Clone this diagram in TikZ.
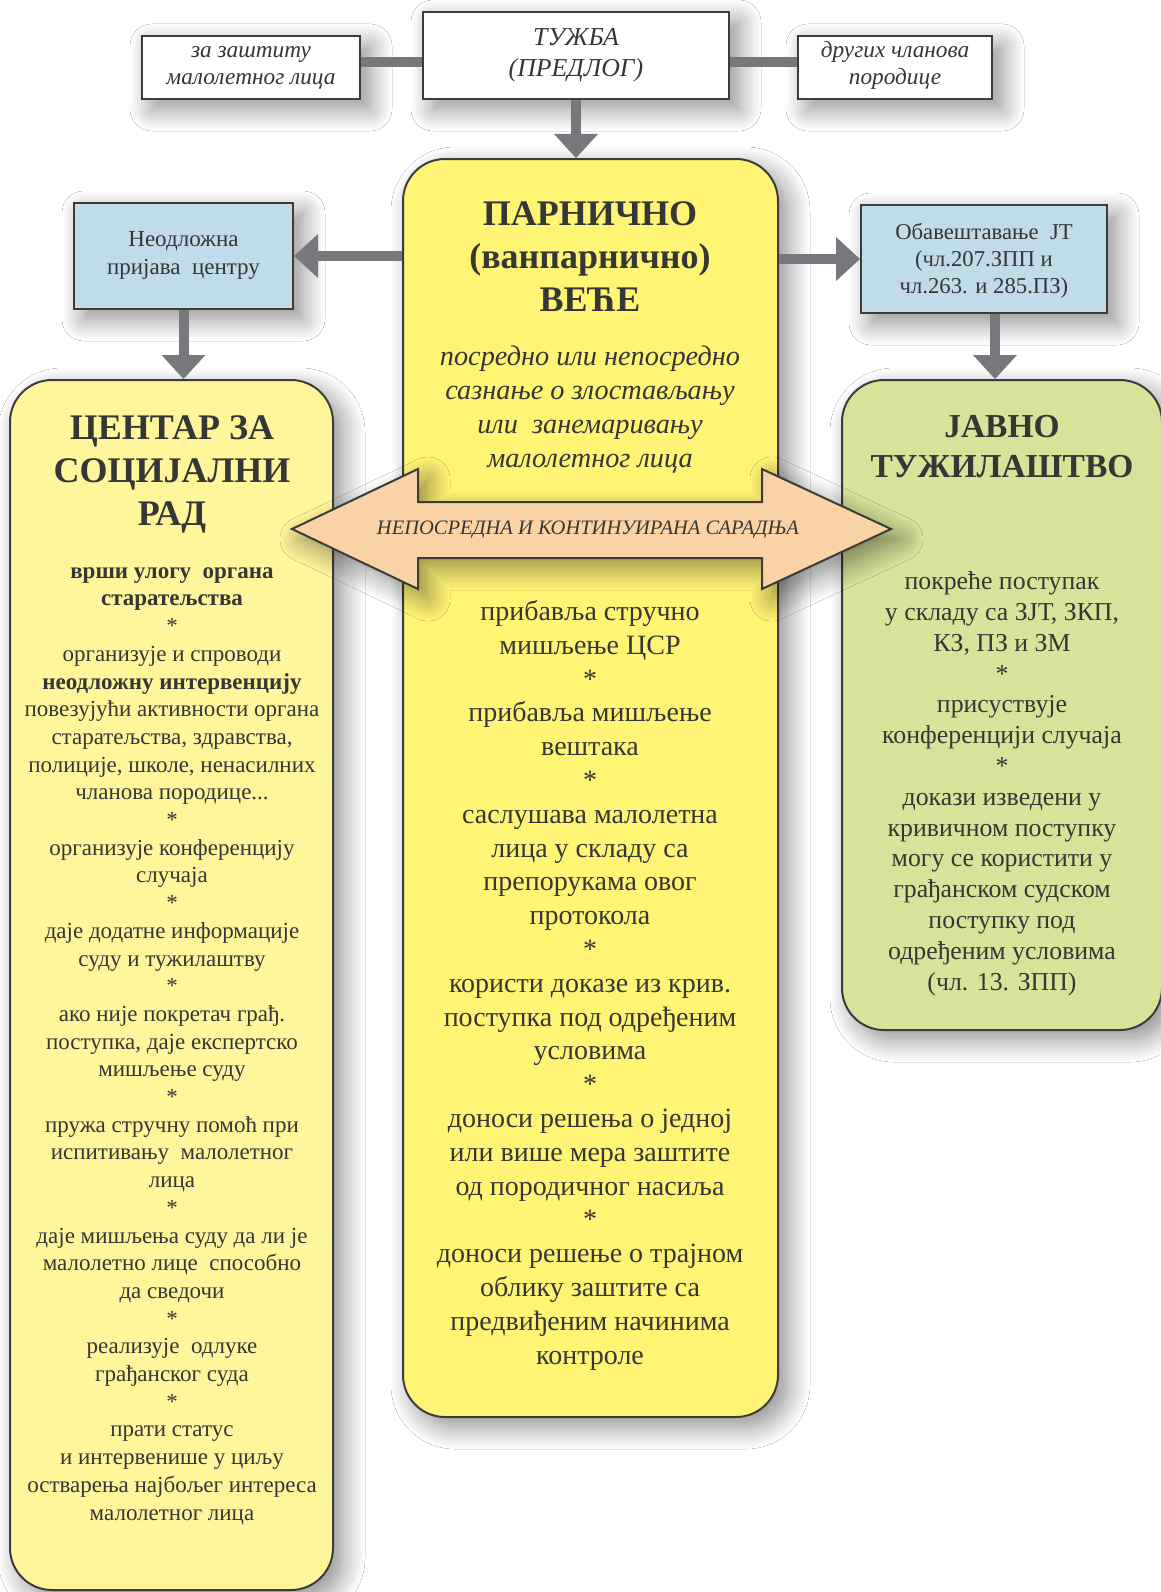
\documentclass[tikz,border=0pt]{standalone}
\usepackage{fontspec}
\setmainfont{Liberation Serif}
\usetikzlibrary{arrows.meta,calc,shadows.blur}
\definecolor{yleft}{HTML}{FFF59B}
\definecolor{ymid}{HTML}{FFF474}
\definecolor{grn}{HTML}{D6E398}
\definecolor{blu}{HTML}{C0DCE8}
\definecolor{pch}{HTML}{F9D3A5}
\definecolor{agray}{HTML}{76787D}
\definecolor{bord}{HTML}{3C3C3C}
\definecolor{txt}{HTML}{363636}
\begin{document}
\begin{tikzpicture}[x=1pt,y=-1pt,
  shad/.style={blur shadow={shadow xshift=10pt, shadow yshift=-10pt, shadow blur radius=22pt, shadow opacity=45, shadow blur steps=14}},
  sbox/.style={draw=bord, line width=2pt, inner sep=0pt, shad},
  rbox/.style={sbox, rounded corners=42pt},
  tx/.style={text=txt, align=center, inner sep=0pt, anchor=base},
  bar/.style={draw=agray, line width=10pt},
  arr/.style={bar, -{Triangle[width=44pt,length=24pt,line width=0pt]}},
  dbl/.style={draw=bord, line width=2pt, fill=pch, line join=miter, shad}
]
\useasboundingbox (0,0) rectangle (1160,1592);
\fill[white] (0,0) rectangle (1160,1592);

% boxes
\node[sbox, fill=white, minimum width=218pt, minimum height=63pt] (zaz) at (251,67.5) {};
\node[sbox, fill=white, minimum width=306pt, minimum height=87pt] (tuzba) at (576,55.5) {};
\node[sbox, fill=white, minimum width=194pt, minimum height=63pt] (drug) at (895,67.5) {};
\node[rbox, fill=ymid, minimum width=375pt, minimum height=1258pt] (par) at (590.5,788) {};
\node[sbox, fill=blu, minimum width=219pt, minimum height=106pt] (neod) at (183.5,256) {};
\node[sbox, fill=blu, minimum width=246pt, minimum height=108pt] (obav) at (984,259) {};
\node[rbox, fill=yleft, minimum width=323pt, minimum height=1210pt] (csr) at (171.5,985) {};
\node[rbox, fill=grn, minimum width=320pt, minimum height=650pt] (jt) at (1002,705) {};

% connectors
\draw[bar] ($(zaz.east)+(0,-5)$) -- ($(tuzba.west |- zaz.east)+(0,-5)$);
\draw[bar] ($(tuzba.east |- drug.west)+(0,-5)$) -- ($(drug.west)+(0,-5)$);
\draw[arr] (tuzba.south) -- (tuzba.south |- par.north);
\draw[arr] (par.west |- neod.east) -- (neod.east);
\draw[arr] (par.east |- obav.west) -- (obav.west);
\draw[arr] (neod.south) -- (neod.south |- csr.north);
\draw[arr] ($(obav.south)+(11,0)$) -- ($(obav.south |- jt.north)+(11,0)$);

% double arrow
\draw[dbl] (292,529) -- (418,469) -- (418,502) -- (762,502) -- (762,469) -- (891,529)
  -- (762,589) -- (762,558) -- (418,558) -- (418,589) -- cycle;
\node[tx, anchor=center, font=\fontsize{20.5}{24}\selectfont\itshape] (coop) at (588,530) {НЕПОСРЕДНА И КОНТИНУИРАНА САРАДЊА};

% texts top (anchor base = last line baseline)
\node[tx, font=\fontsize{23.3}{27}\selectfont\itshape] (tzaz) at (251,85) {за заштиту\\малолетног лица};
\node[tx, font=\fontsize{25.8}{31}\selectfont\itshape] (ttuz) at (576,77) {ТУЖБА\\(ПРЕДЛОГ)};
\node[tx, font=\fontsize{23.3}{27}\selectfont\itshape] (tdrug) at (895,85) {других чланова\\породице};

\node[tx, font=\fontsize{23}{28}\selectfont] (tneod) at (183.5,274) {Неодложна\\пријава\ \ центру};
\node[tx, font=\fontsize{22.7}{27}\selectfont] (tobav) at (984,293) {Обавештавање\ \ ЈТ\\(чл.207.ЗПП и\\чл.263. и 285.ПЗ)};

% titles
\node[tx, font=\fontsize{36}{43}\selectfont\bfseries] (hcsr) at (172,525) {ЦЕНТАР ЗА\\СОЦИЈАЛНИ\\РАД};
\node[tx, font=\fontsize{33.5}{40}\selectfont\bfseries] (hjt) at (1002,477) {ЈАВНО\\ТУЖИЛАШТВО};
\node[tx, font=\fontsize{36}{43}\selectfont\bfseries] (hpar) at (590,311) {ПАРНИЧНО\\(ванпарнично)\\ВЕЋЕ};

\node[tx, font=\fontsize{28.3}{34}\selectfont\itshape] (ipar) at (590,467) {посредно или непосредно\\сазнање о злостављању\\или\ \ занемаривању\\малолетног лица};

% body texts
\node[tx, font=\fontsize{23}{27.7}\selectfont] (bcsr) at (172,1520) {\textbf{врши улогу\ \ органа}\\\textbf{старатељства}\\*\\организује и спроводи\\\textbf{неодложну интервенцију}\\повезујући активности органа\\старатељства, здравства,\\полиције, школе, ненасилних\\чланова породице...\\*\\организује конференцију\\случаја\\*\\даје додатне информације\\суду и тужилаштву\\*\\ако није покретач грађ.\\поступка, даје експертско\\мишљење суду\\*\\пружа стручну помоћ при\\испитивању\ \ малолетног\\лица\\*\\даје мишљења суду да ли је\\малолетно лице\ \ способно\\да сведочи\\*\\реализује\ \ одлуке\\грађанског суда\\*\\прати статус\\и интервенише у циљу\\остварења најбољег интереса\\малолетног лица};

\node[tx, font=\fontsize{28}{33.8}\selectfont] (bpar) at (590,1364) {прибавља стручно\\мишљење ЦСР\\*\\прибавља мишљење\\вештака\\*\\саслушава малолетна\\лица у складу са\\препорукама овог\\протокола\\*\\користи доказе из крив.\\поступка под одређеним\\условима\\*\\доноси решења о једној\\или више мера заштите\\од породичног насиља\\*\\доноси решење о трајном\\облику заштите са\\предвиђеним начинима\\контроле};

\node[tx, font=\fontsize{25.8}{30.8}\selectfont] (bjt) at (1002,990) {покреће поступак\\у складу са ЗЈТ, ЗКП,\\КЗ, ПЗ и ЗМ\\*\\присуствује\\конференцији случаја\\*\\докази изведени у\\кривичном поступку\\могу се користити у\\грађанском судском\\поступку под\\одређеним условима\\(чл. 13. ЗПП)};
\end{tikzpicture}
\end{document}
